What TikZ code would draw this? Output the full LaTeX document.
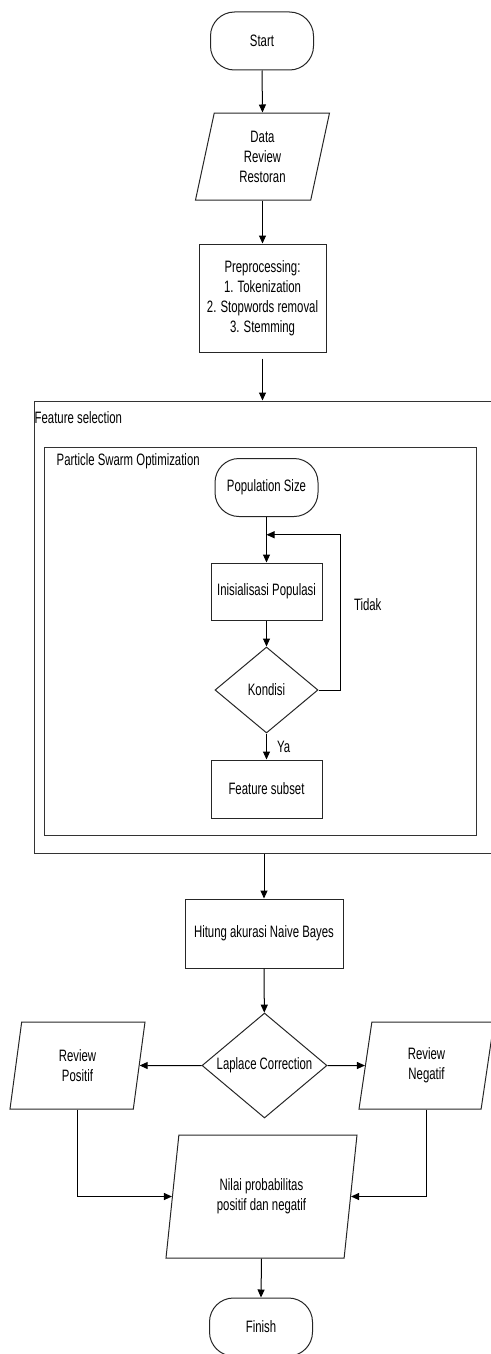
\documentclass[tikz,border=0pt]{standalone}
\usepackage{fontspec}
\setmainfont[FakeStretch=0.69]{Liberation Sans}
\usetikzlibrary{shapes.geometric,arrows.meta,calc}
\newcommand{\flowfont}{\fontsize{16.5}{20}\selectfont}

\tikzset{
  base/.style={draw=black!85, line width=1pt, align=center, inner sep=0pt, font=\flowfont},
  term/.style={base, rectangle, rounded corners=24pt, minimum width=103, minimum height=58},
  proc/.style={base, rectangle},
  io/.style={base, trapezium, trapezium left angle=70, trapezium right angle=110,
    trapezium stretches body},
  decision/.style={base, diamond, aspect=1.2},
  container/.style={draw=black!80, line width=1pt, inner sep=0pt},
  lbl/.style={font=\flowfont, inner sep=0pt},
  arrow/.style={line width=1pt, -{Triangle[length=8pt,width=7pt]}},
  line/.style={line width=1pt}
}

\begin{document}
\begin{tikzpicture}[x=1pt, y=-1pt, line join=miter]
  \useasboundingbox (0,0) rectangle (490,1354);

  \node[term] (start) at (262,41) {Start};
  \node[io, minimum width=134, minimum height=87] (data) at (262.5,156.5) {Data\\Review\\Restoran};
  \node[proc, minimum width=127, minimum height=108] (prep) at (262.5,298)
    {Preprocessing:\\1. Tokenization\\2. Stopwords removal\\3. Stemming};

  \node[container, minimum width=466, minimum height=452] (fsel) at (267,627) {};
  \node[container, minimum width=432, minimum height=388] (pso) at (260,641) {};
  \node[lbl, anchor=west] (fsellbl) at ([shift={(1,17)}]fsel.north west) {Feature selection};
  \node[lbl, anchor=west] (psolbl) at ([shift={(13,15)}]pso.north west) {Particle Swarm Optimization};

  \node[term] (popsize) at (266.5,487.5) {Population Size};
  \node[proc, minimum width=111, minimum height=57] (init) at (266.5,591.5) {Inisialisasi Populasi};
  \node[decision, minimum width=103, minimum height=86] (kond) at (266.5,690) {Kondisi};
  \node[proc, minimum width=111, minimum height=58] (subset) at (266.5,789) {Feature subset};
  \coordinate (join) at ($(popsize.south)!0.39!(init.north)$);
  \coordinate (back) at ($(kond.east)+(22,0)$);

  \node[proc, minimum width=158, minimum height=69] (hitung) at (264,933.5) {Hitung akurasi Naive Bayes};
  \node[decision, minimum width=125, minimum height=105] (laplace) at (264.5,1065.5) {Laplace Correction};
  \node[io, minimum width=135, minimum height=87] (revpos) at (77.5,1065.5) {Review\\Positif};
  \node[io, minimum width=135, minimum height=87] (revneg) at (426.5,1065.5) {Review\\Negatif};
  \node[io, minimum width=191, minimum height=123] (nilai) at (261.5,1196.5)
    {Nilai probabilitas\\positif dan negatif};
  \node[term] (finish) at (261,1327) {Finish};

  \draw[arrow] (start.south) -- (data.center |- data.north);
  \draw[arrow] (data.center |- data.south) -- (prep.north);
  \draw[arrow, shorten <=6pt] (prep.south) -- (prep.south |- fsel.north);
  \draw[arrow] (popsize) -- (init);
  \draw[arrow] (init) -- (kond);
  \draw[arrow] (kond) -- node[lbl, right=10pt] (ya) {Ya} (subset);
  \draw[arrow] (kond.east) -- (back) |- node[lbl, pos=0.274, right=13pt] (tidak) {Tidak} (join);
  \draw[arrow] (fsel.south -| hitung) -- (hitung.north);
  \draw[arrow] (hitung) -- (laplace);
  \draw[arrow] (laplace.west) -- (revpos.east);
  \draw[arrow] (laplace.east) -- (revneg.west);
  \draw[arrow] (revpos.center |- revpos.south) |- (nilai.west);
  \draw[arrow] (revneg.center |- revneg.south) |- (nilai.east);
  \draw[arrow] (nilai.center |- nilai.south) -- (finish.north);
\end{tikzpicture}
\end{document}
